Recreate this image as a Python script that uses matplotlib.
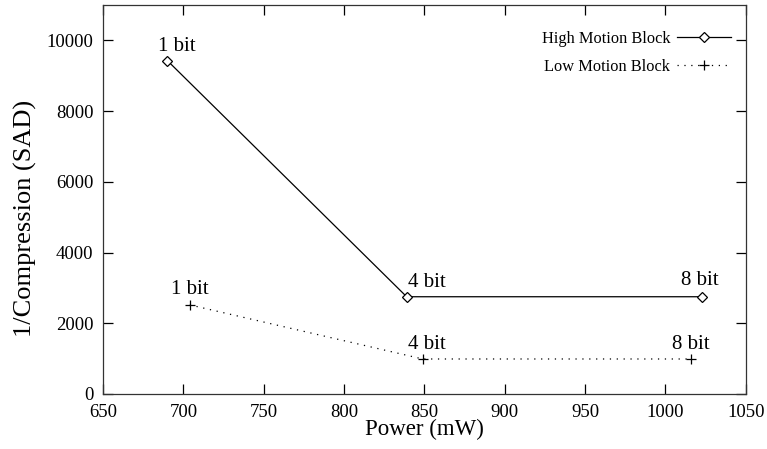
import matplotlib
matplotlib.use("Agg")
import matplotlib.pyplot as plt

plt.rcParams['font.family'] = ['Liberation Serif', 'DejaVu Serif']

# Data
high_power = [690, 839, 1023]
high_sad = [9430, 2750, 2750]
low_power = [704, 849, 1016]
low_sad = [2520, 990, 990]
bit_labels = ["1 bit", "4 bit", "8 bit"]

# label offsets from each point, in pixels (x right, y up)
high_offsets = [(10, 10), (20, 10), (-2, 12)]
low_offsets = [(0, 11), (4, 10), (0, 10)]

fig = plt.figure(figsize=(7.67, 4.49), dpi=100)
ax = fig.add_axes([0.1343, 0.1225, 0.9722 - 0.1343, 0.9889 - 0.1225])

ax.plot(high_power, high_sad, color='black', lw=0.9, marker='D', ms=5,
        mfc='white', mec='black', mew=0.9, label='High Motion Block')
ax.plot(low_power, low_sad, color='black', lw=0.9, ls=(0, (1, 4.5)), marker='+',
        ms=7, mew=0.9, label='Low Motion Block')

px = 0.72  # points per pixel
for x, y, t, o in zip(high_power, high_sad, bit_labels, high_offsets):
    ax.annotate(t, (x, y), xytext=(o[0] * px, o[1] * px), textcoords='offset points',
                ha='center', va='baseline', fontsize=15)
for x, y, t, o in zip(low_power, low_sad, bit_labels, low_offsets):
    ax.annotate(t, (x, y), xytext=(o[0] * px, o[1] * px), textcoords='offset points',
                ha='center', va='baseline', fontsize=15)

ax.set_xlim(650, 1050)
ax.set_ylim(0, 11000)
ax.set_xticks(range(650, 1051, 50))
ax.set_yticks(range(0, 10001, 2000))
ax.tick_params(direction='in', length=7, width=0.9, top=True, right=True,
               labelsize=13.5, pad=7)
for s in ax.spines.values():
    s.set_linewidth(0.9)
    s.set_color('#333333')

ax.set_xlabel('Power (mW)', fontsize=16.5, labelpad=-1)
ax.set_ylabel('1/Compression (SAD)', fontsize=19, labelpad=7, y=0.452)

ax.legend(loc='upper right', bbox_to_anchor=(1, 0.972), frameon=False,
          markerfirst=False, fontsize=11.8, handlelength=3.3, borderaxespad=0.5,
          labelspacing=0.75, handletextpad=0.4)

fig.savefig('out.png', dpi=100)
